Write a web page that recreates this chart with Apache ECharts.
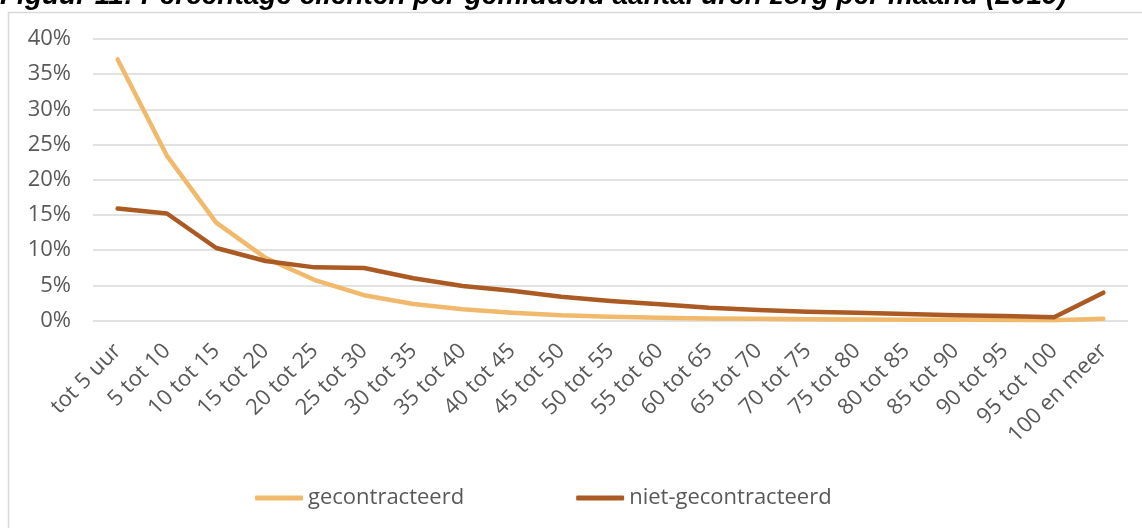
<!DOCTYPE html>
<html>
<head>
<meta charset="utf-8">
<script src="https://cdn.jsdelivr.net/npm/echarts@6/dist/echarts.min.js"></script>
<style>
  html, body { margin: 0; padding: 0; background: #fff; }
  #main { width: 1142px; height: 528px; }
</style>
</head>
<body>
<div id="main"></div>
<script>
const categories = [
  'tot 5 uur', '5 tot 10', '10 tot 15', '15 tot 20', '20 tot 25', '25 tot 30', '30 tot 35',
  '35 tot 40', '40 tot 45', '45 tot 50', '50 tot 55', '55 tot 60', '60 tot 65', '65 tot 70',
  '70 tot 75', '75 tot 80', '80 tot 85', '85 tot 90', '90 tot 95', '95 tot 100', '100 en meer'
]

// percentages
const gecontracteerd = [
  37.1, 23.4, 13.9, 8.9, 5.75, 3.6, 2.35, 1.6, 1.1, 0.74, 0.54,
  0.4, 0.3, 0.25, 0.18, 0.15, 0.12, 0.1, 0.08, 0.05, 0.25
]
const nietGecontracteerd = [
  15.9, 15.2, 10.3, 8.45, 7.55, 7.45, 6.0, 4.9, 4.23, 3.38, 2.77,
  2.3, 1.82, 1.5, 1.25, 1.1, 0.92, 0.74, 0.64, 0.45, 3.95
]

const titleText = 'Figuur 11: Percentage cliënten per gemiddeld aantal uren zorg per maand (2019)'

const fontFamily = 'Open Sans'
const labelColor = '#595959'

var myChart = echarts.init(document.getElementById('main'))

var option = {
  animation: false,
  graphic: [
    {
      type: 'rect',
      shape: { x: 8.5, y: 12.5, width: 1300, height: 700 },
      style: { fill: 'none', stroke: '#d9d9d9', lineWidth: 1.5 }
    },
    {
      type: 'text',
      left: 0,
      top: -18,
      style: {
        text: titleText,
        fill: '#000',
        font: 'italic bold 28px "Liberation Sans"'
      }
    }
  ],
  legend: {
    top: 482,
    left: 250,
    itemWidth: 48,
    itemHeight: 5,
    itemGap: 112,
    icon: 'roundRect',
    textStyle: {
      color: labelColor,
      fontSize: 22,
      fontFamily: fontFamily
    },
    data: ['gecontracteerd', 'niet-gecontracteerd']
  },
  grid: {
    left: 93,
    right: 14,
    top: 39,
    bottom: 207.5,
    containLabel: false
  },
  xAxis: {
    type: 'category',
    data: categories,
    boundaryGap: true,
    axisLine: { show: false },
    axisTick: { show: false },
    axisLabel: {
      rotate: 45,
      interval: 0,
      margin: 27,
      color: labelColor,
      fontSize: 22,
      fontFamily: fontFamily
    }
  },
  yAxis: {
    type: 'value',
    min: 0,
    max: 40,
    interval: 5,
    axisLine: { show: false },
    axisTick: { show: false },
    axisLabel: {
      formatter: '{value}%',
      margin: 22,
      color: labelColor,
      fontSize: 22,
      fontFamily: fontFamily
    },
    splitLine: {
      lineStyle: { color: '#d9d9d9', width: 1.5 }
    }
  },
  series: [
    {
      name: 'gecontracteerd',
      type: 'line',
      data: gecontracteerd,
      symbol: 'none',
      color: '#f1b96b',
      lineStyle: { width: 4.5, cap: 'round', join: 'round' }
    },
    {
      name: 'niet-gecontracteerd',
      type: 'line',
      data: nietGecontracteerd,
      symbol: 'none',
      color: '#ab5a24',
      lineStyle: { width: 4.5, cap: 'round', join: 'round' }
    }
  ]
}

myChart.setOption(option)
window.addEventListener('resize', () => {
  myChart.resize()
})
</script>
</body>
</html>
